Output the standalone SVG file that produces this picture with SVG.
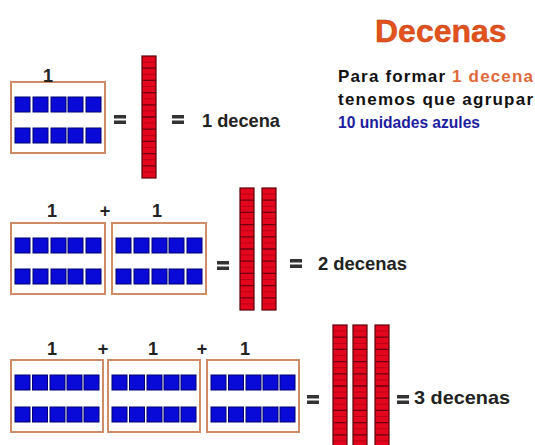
<svg xmlns="http://www.w3.org/2000/svg" xmlns:xlink="http://www.w3.org/1999/xlink" width="535" height="445" viewBox="0 0 535 445">
<style>
.frame{fill:#fff;stroke:#cf8a66;stroke-width:2}
.unit{fill:#0a0ad8;stroke:#000070;stroke-width:1}
.rodbody{fill:#e3061c;stroke:#5a0008;stroke-width:1.2}
.rodline{stroke:#6a0010;stroke-width:1.3}
.rodfaint{stroke:#9a0014;stroke-width:0.8;opacity:0.7}
.eq{fill:#333}
.lbl{font-family:"Liberation Sans",Arial,sans-serif;font-weight:bold;fill:#222}
.num{font-size:18px;text-anchor:middle}
.res{font-size:19px}
</style>
<defs>
<g id="frameA">
<rect class="frame" x="0" y="0" width="94" height="71"/>
<rect class="unit" x="4" y="15" width="15" height="15"/>
<rect class="unit" x="22" y="15" width="15" height="15"/>
<rect class="unit" x="40" y="15" width="15" height="15"/>
<rect class="unit" x="57" y="15" width="15" height="15"/>
<rect class="unit" x="75" y="15" width="15" height="15"/>
<rect class="unit" x="4" y="46" width="15" height="15"/>
<rect class="unit" x="22" y="46" width="15" height="15"/>
<rect class="unit" x="40" y="46" width="15" height="15"/>
<rect class="unit" x="57" y="46" width="15" height="15"/>
<rect class="unit" x="75" y="46" width="15" height="15"/>
</g>
<g id="frameB">
<rect class="frame" x="0" y="0" width="92" height="72"/>
<rect class="unit" x="4" y="15" width="15" height="15"/>
<rect class="unit" x="21.5" y="15" width="15" height="15"/>
<rect class="unit" x="39" y="15" width="15" height="15"/>
<rect class="unit" x="56" y="15" width="15" height="15"/>
<rect class="unit" x="73" y="15" width="15" height="15"/>
<rect class="unit" x="4" y="47" width="15" height="15"/>
<rect class="unit" x="21.5" y="47" width="15" height="15"/>
<rect class="unit" x="39" y="47" width="15" height="15"/>
<rect class="unit" x="56" y="47" width="15" height="15"/>
<rect class="unit" x="73" y="47" width="15" height="15"/>
</g>
<g id="rod">
<rect class="rodbody" x="0" y="0" width="14" height="122"/>
<path class="rodline" d="M0 12.2H14M0 24.4H14M0 36.6H14M0 48.8H14M0 61H14M0 73.2H14M0 85.4H14M0 97.6H14M0 109.8H14"/>
<path class="rodfaint" d="M0 6.1H14M0 18.3H14M0 30.5H14M0 42.7H14M0 54.9H14M0 67.1H14M0 79.3H14M0 91.5H14M0 103.7H14M0 115.9H14"/>
</g>
<g id="eq">
<rect class="eq" x="0" y="0" width="12" height="3.5"/>
<rect class="eq" x="0" y="5.5" width="12" height="3.5"/>
</g>
</defs>

<g id="title">
<text x="375" y="42" font-family="Liberation Sans,Arial,sans-serif" font-weight="bold" font-size="32" fill="#e4521c" stroke="#b83a10" stroke-width="0.4">Decenas</text>
</g>
<g id="explanation" font-family="Liberation Sans,Arial,sans-serif" font-weight="bold" font-size="17">
<text x="338" y="82" textLength="195" lengthAdjust="spacing" fill="#111">Para formar <tspan fill="#e0693a">1 decena</tspan></text>
<text x="338" y="105" textLength="195" lengthAdjust="spacing" fill="#111">tenemos que agrupar</text>
<text x="338" y="128" textLength="142" lengthAdjust="spacingAndGlyphs" fill="#1c1ca0">10 unidades azules</text>
</g>

<g id="row1">
<g id="r1-frame1"><use xlink:href="#frameA" x="11" y="82"/><text class="lbl num" x="48" y="82">1</text></g>
<g id="r1-eq1"><use xlink:href="#eq" x="114" y="115"/></g>
<g id="r1-rods"><use xlink:href="#rod" x="142" y="56"/></g>
<g id="r1-eq2"><use xlink:href="#eq" x="172" y="115"/></g>
<g id="r1-result"><text class="lbl res" x="202" y="127" textLength="78" lengthAdjust="spacingAndGlyphs">1 decena</text></g>
</g>

<g id="row2">
<g id="r2-frame1"><use xlink:href="#frameA" x="11" y="223"/><text class="lbl num" x="52" y="217">1</text></g>
<g id="r2-plus1"><text class="lbl num" x="105" y="217">+</text></g>
<g id="r2-frame2"><use xlink:href="#frameA" x="112" y="223"/><text class="lbl num" x="157" y="217">1</text></g>
<g id="r2-eq1"><use xlink:href="#eq" x="217" y="261"/></g>
<g id="r2-rods"><use xlink:href="#rod" x="240" y="188"/><use xlink:href="#rod" x="262" y="188"/></g>
<g id="r2-eq2"><use xlink:href="#eq" x="290" y="259"/></g>
<g id="r2-result"><text class="lbl res" x="318" y="270" textLength="89" lengthAdjust="spacingAndGlyphs">2 decenas</text></g>
</g>

<g id="row3">
<g id="r3-frame1"><use xlink:href="#frameB" x="11" y="360"/><text class="lbl num" x="52" y="355">1</text></g>
<g id="r3-plus1"><text class="lbl num" x="103" y="355">+</text></g>
<g id="r3-frame2"><use xlink:href="#frameB" x="108" y="360"/><text class="lbl num" x="153" y="355">1</text></g>
<g id="r3-plus2"><text class="lbl num" x="202" y="355">+</text></g>
<g id="r3-frame3"><use xlink:href="#frameB" x="207" y="360"/><text class="lbl num" x="245" y="355">1</text></g>
<g id="r3-eq1"><use xlink:href="#eq" x="307" y="395"/></g>
<g id="r3-rods"><use xlink:href="#rod" x="333" y="325"/><use xlink:href="#rod" x="353" y="325"/><use xlink:href="#rod" x="375" y="325"/></g>
<g id="r3-eq2"><use xlink:href="#eq" x="397" y="395"/></g>
<g id="r3-result"><text class="lbl res" x="414" y="404" textLength="96" lengthAdjust="spacingAndGlyphs">3 decenas</text></g>
</g>

<g id="connectors"></g>
</svg>
